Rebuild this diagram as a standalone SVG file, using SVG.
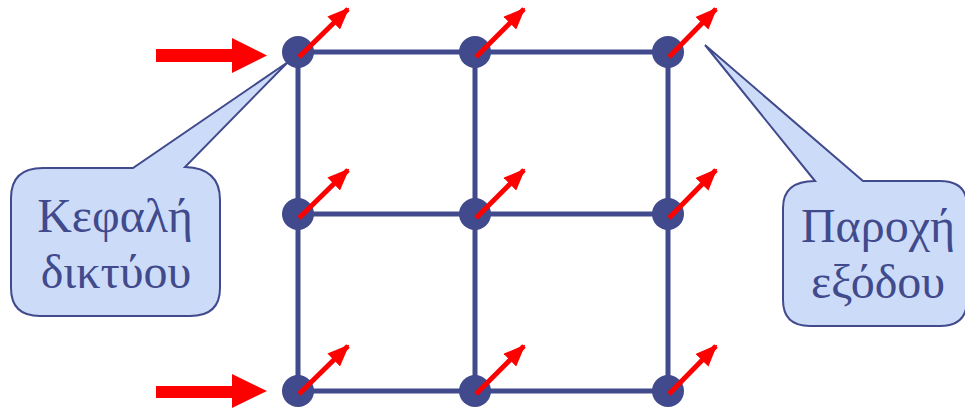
<svg xmlns="http://www.w3.org/2000/svg" width="965" height="409" viewBox="0 0 965 409">
<defs>
<style>
.edge{stroke:#414A8C;stroke-width:5;fill:none}
.node{fill:#414A8C}
.out{stroke:#FF0000;stroke-width:5;fill:none;marker-end:url(#ah)}
.in{fill:#FF0000}
.callout{fill:#CCDCF8;stroke:#414A8C;stroke-width:2}
.lbl{font-family:"Liberation Serif","Times New Roman",serif;font-size:48px;fill:#414A8C;text-anchor:middle}
</style>
<marker id="ah" markerUnits="userSpaceOnUse" viewBox="0 0 22 18" refX="20" refY="9" markerWidth="22" markerHeight="18" orient="auto">
<path d="M0,0 L22,9 L0,18 Z" fill="#FF0000"/>
</marker>
</defs>
<rect width="965" height="409" fill="#FFFFFF"/>
<g id="connectors">
<line class="edge" x1="298" y1="52" x2="668" y2="52"/>
<line class="edge" x1="298" y1="214" x2="668" y2="214"/>
<line class="edge" x1="298" y1="391" x2="668" y2="391"/>
<line class="edge" x1="298" y1="52" x2="298" y2="391"/>
<line class="edge" x1="475" y1="52" x2="475" y2="391"/>
<line class="edge" x1="668" y1="52" x2="668" y2="391"/>
</g>
<g id="n11"><circle class="node" cx="298" cy="52" r="16"/><line class="out" x1="299" y1="57" x2="348" y2="9"/></g>
<g id="n12"><circle class="node" cx="475" cy="52" r="16"/><line class="out" x1="476" y1="57" x2="524" y2="9"/></g>
<g id="n13"><circle class="node" cx="668" cy="52" r="16"/><line class="out" x1="669" y1="57" x2="716" y2="9"/></g>
<g id="n21"><circle class="node" cx="298" cy="214" r="16"/><line class="out" x1="299" y1="218" x2="348" y2="170"/></g>
<g id="n22"><circle class="node" cx="475" cy="214" r="16"/><line class="out" x1="476" y1="218" x2="524" y2="170"/></g>
<g id="n23"><circle class="node" cx="668" cy="214" r="16"/><line class="out" x1="669" y1="218" x2="716" y2="170"/></g>
<g id="n31"><circle class="node" cx="298" cy="391" r="16"/><line class="out" x1="299" y1="394" x2="348" y2="346"/></g>
<g id="n32"><circle class="node" cx="475" cy="391" r="16"/><line class="out" x1="476" y1="394" x2="524" y2="346"/></g>
<g id="n33"><circle class="node" cx="668" cy="391" r="16"/><line class="out" x1="669" y1="394" x2="716" y2="346"/></g>
<g id="input-top"><path class="in" d="M156,49 L232,49 L232,38 L267,55.5 L232,73 L232,62 L156,62 Z"/></g>
<g id="input-bottom"><path class="in" d="M156,386 L232,386 L232,374 L267,391 L232,408 L232,398 L156,398 Z"/></g>
<g id="callout-head">
<path class="callout" d="M43,168 L133,168 L288,62 L185,167 Q220,168 220,200 L220,288 Q220,316 190,316 L40,316 Q11,316 11,288 L11,198 Q11,168 43,168 Z"/>
<text class="lbl" x="115" y="232">Κεφαλή</text>
<text class="lbl" x="116" y="288">δικτύου</text>
</g>
<g id="callout-output">
<path class="callout" d="M815,181 L705,45 L863,181 L940,181 Q967,181 967,206 L967,300 Q967,326 940,326 L810,326 Q783,326 783,300 L783,208 Q783,181 815,181 Z"/>
<text class="lbl" x="878" y="242">Παροχή</text>
<text class="lbl" x="878" y="298">εξόδου</text>
</g>
</svg>
